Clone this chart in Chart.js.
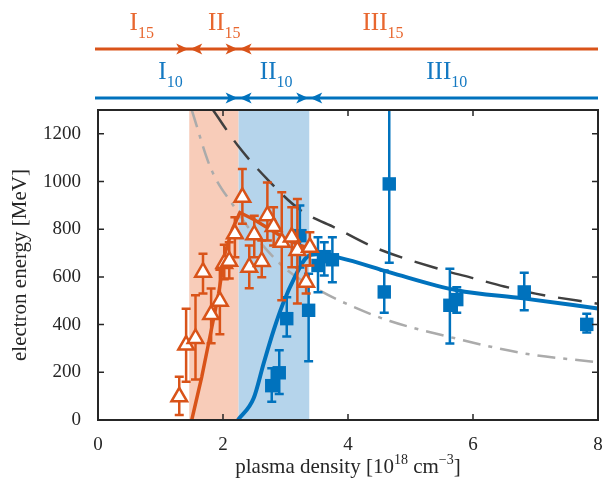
<!DOCTYPE html>
<html>
<head>
<meta charset="utf-8">
<script src="https://cdn.jsdelivr.net/npm/chart.js@4.4.1/dist/chart.umd.min.js"></script>
<style>
  html, body { margin: 0; background: #fff; }
  #wrap { width: 605px; height: 483px; }
</style>
</head>
<body>
<div id="wrap"><canvas id="chart"></canvas></div>
<script>
// ----- data -----
const xTicks = [0, 2, 4, 6, 8];
const yTicks = [0, 200, 400, 600, 800, 1000, 1200];

// 15 TW (orange triangles)
const triX  = [1.30, 1.41, 1.56, 1.68, 1.81, 1.95, 2.02, 2.10, 2.19, 2.31, 2.42, 2.50, 2.62, 2.71, 2.81, 2.94, 3.10, 3.19, 3.33, 3.39];
const triY  = [97, 314, 342, 620, 442, 498, 656, 666, 781, 934, 641, 777, 665, 857, 811, 745, 767, 711, 578, 724];
const triLo = [21, 160, 170, 530, 322, 360, 590, 593, 683, 823, 552, 683, 599, 753, 732, 502, 641, 489, 530, 648];
const triHi = [181, 467, 523, 697, 551, 630, 735, 745, 850, 1053, 732, 857, 753, 996, 892, 955, 892, 927, 648, 787];

// 10 TW (blue squares)
const sqX  = [2.78, 2.90, 3.02, 3.23, 3.37, 3.52, 3.62, 3.75, 4.58, 4.66, 5.63, 5.74, 6.82, 7.82];
const sqY  = [144, 198, 425, 773, 460, 648, 685, 672, 537, 990, 481, 505, 537, 401];
const sqLo = [77, 109, 350, 640, 246, 536, 606, 578, 450, 659, 321, 450, 460, 367];
const sqHi = [217, 293, 515, 900, 613, 766, 745, 766, 627, 1400, 634, 557, 617, 446];

// model curves
const orCurveX = [1.50, 1.66, 1.79, 1.93, 2.03, 2.15, 2.27, 2.50, 2.75, 3.00, 3.20, 3.40];
const orCurveY = [0, 181, 348, 530, 697, 800, 870, 840, 800, 760, 735, 718];
const blCurveX = [2.24, 2.49, 2.65, 2.81, 2.96, 3.15, 3.34, 3.50, 3.87, 4.67, 5.74, 6.80, 8.00];
const blCurveY = [0, 91, 237, 376, 488, 600, 683, 695, 680, 619, 544, 510, 468];
const dashX = [1.84, 2.24, 2.70, 3.23, 3.82, 4.43, 5.50, 6.00, 6.50, 7.00, 8.00];
const dashY = [1300, 1150, 1012, 882, 803, 723, 630, 595, 560, 530, 487];
const dotX = [1.50, 1.80, 2.19, 2.50, 3.02, 3.50, 4.03, 4.67, 5.63, 6.80, 8.00];
const dotY = [1300, 1058, 890, 775, 630, 550, 481, 415, 348, 280, 242];

// regime boundaries and labels
const band15 = [1.46, 2.25];
const band10 = [2.25, 3.38];
const labels15 = ['I', 'II', 'III'];
const labels15X = [0.70, 2.02, 4.56];
const labels10 = ['I', 'II', 'III'];
const labels10X = [1.16, 2.85, 5.58];

const C_OR = '#d95319', C_BL = '#0072bd', C_AX = '#262626';
const SERIF = '"Liberation Serif", "DejaVu Serif", serif';
const pts = (xs, ys) => xs.map((x, i) => ({ x, y: ys[i] }));

// ----- helpers -----
function textRuns(g, x, y, parts, color) {
  // parts: [text, size, dy]
  let w = 0;
  parts.forEach(p => { g.font = p[1] + 'px ' + SERIF; w += g.measureText(p[0]).width; });
  let cx = x - w / 2;
  g.fillStyle = color; g.textAlign = 'left'; g.textBaseline = 'alphabetic';
  parts.forEach(p => {
    g.font = p[1] + 'px ' + SERIF;
    g.fillText(p[0], cx, y + (p[2] || 0));
    cx += g.measureText(p[0]).width;
  });
}
function arrowHead(g, tip, y, dir, color) {
  const L = 12, H = 5.5;
  g.fillStyle = color;
  g.beginPath();
  g.moveTo(tip, y);
  g.lineTo(tip - dir * L, y - H);
  g.lineTo(tip - dir * (L - 3), y);
  g.lineTo(tip - dir * L, y + H);
  g.closePath(); g.fill();
}

// ----- plugins -----
const bands = {
  id: 'bands',
  beforeDatasetsDraw(chart) {
    const { ctx: g, chartArea: a, scales: { x } } = chart;
    g.save();
    g.fillStyle = '#f8ccb9';
    g.fillRect(x.getPixelForValue(band15[0]), a.top, x.getPixelForValue(band15[1]) - x.getPixelForValue(band15[0]), a.bottom - a.top);
    g.fillStyle = '#b5d4eb';
    g.fillRect(x.getPixelForValue(band10[0]), a.top, x.getPixelForValue(band10[1]) - x.getPixelForValue(band10[0]), a.bottom - a.top);
    g.restore();
  }
};

const errorBars = {
  id: 'errorBars',
  beforeDatasetDraw(chart, args) {
    const ds = chart.data.datasets[args.index];
    if (!ds.errLo) return;
    const { ctx: g, chartArea: a, scales: { x, y } } = chart;
    g.save();
    g.beginPath(); g.rect(a.left, a.top, a.right - a.left, a.bottom - a.top); g.clip();
    g.strokeStyle = ds.borderColor; g.lineWidth = 2.5;
    ds.data.forEach((p, i) => {
      const px = x.getPixelForValue(p.x);
      const lo = y.getPixelForValue(ds.errLo[i]), hi = y.getPixelForValue(ds.errHi[i]);
      g.beginPath();
      g.moveTo(px, lo); g.lineTo(px, hi);
      g.moveTo(px - 4.5, lo); g.lineTo(px + 4.5, lo);
      g.moveTo(px - 4.5, hi); g.lineTo(px + 4.5, hi);
      g.stroke();
    });
    g.restore();
  }
};

const decor = {
  id: 'decor',
  afterDraw(chart) {
    const { ctx: g, chartArea: a, scales: { x, y } } = chart;
    g.save();
    // frame + inward ticks
    g.strokeStyle = C_AX; g.lineWidth = 2;
    g.strokeRect(a.left, a.top, a.right - a.left, a.bottom - a.top);
    g.lineWidth = 1.5;
    g.beginPath();
    xTicks.forEach(v => {
      const px = x.getPixelForValue(v);
      g.moveTo(px, a.bottom); g.lineTo(px, a.bottom - 6);
      g.moveTo(px, a.top); g.lineTo(px, a.top + 6);
    });
    yTicks.forEach(v => {
      const py = y.getPixelForValue(v);
      g.moveTo(a.left, py); g.lineTo(a.left + 6, py);
      g.moveTo(a.right, py); g.lineTo(a.right - 6, py);
    });
    g.stroke();

    // regime arrows
    const rows = [
      { yl: 49, yt: 33, band: band15, names: labels15, pos: labels15X, sub: '15', color: C_OR, tcol: '#e8672f' },
      { yl: 98, yt: 82, band: band10, names: labels10, pos: labels10X, sub: '10', color: C_BL, tcol: '#1479c2' }
    ];
    rows.forEach(r => {
      const x0 = x.getPixelForValue(0) - 3, x1 = x.getPixelForValue(8);
      const b0 = x.getPixelForValue(r.band[0]), b1 = x.getPixelForValue(r.band[1]);
      g.strokeStyle = r.color; g.lineWidth = 3;
      g.beginPath(); g.moveTo(x0, r.yl); g.lineTo(x1, r.yl); g.stroke();
      arrowHead(g, b0 - 1, r.yl, 1, r.color);
      arrowHead(g, b0 + 1, r.yl, -1, r.color);
      arrowHead(g, b1 - 1, r.yl, 1, r.color);
      arrowHead(g, b1 + 1, r.yl, -1, r.color);
      r.names.forEach((n, i) => {
        textRuns(g, x.getPixelForValue(r.pos[i]), r.yt - 3, [[n, 25], [r.sub, 16, 8]], r.tcol);
      });
    });

    // axis titles
    textRuns(g, (a.left + a.right) / 2, 473, [['plasma density [10', 21], ['18', 14, -9], [' cm', 21], ['\u22123', 14, -9], [']', 21]], C_AX);
    g.translate(26, (a.top + a.bottom) / 2);
    g.rotate(-Math.PI / 2);
    textRuns(g, 0, 0, [['electron energy [MeV]', 21]], C_AX);
    g.restore();
  }
};

// ----- chart -----
const tickFont = { family: SERIF, size: 19 };
new Chart(document.getElementById('chart').getContext('2d'), {
  type: 'scatter',
  data: {
    datasets: [
      { label: '15', data: pts(triX, triY), errLo: triLo, errHi: triHi, order: 1,
        pointStyle: 'triangle', pointRadius: 9, pointBorderWidth: 2.5,
        borderColor: C_OR, backgroundColor: '#ffffff' },
      { label: '10', data: pts(sqX, sqY), errLo: sqLo, errHi: sqHi, order: 2,
        pointStyle: 'rect', pointRadius: 9.5, pointBorderWidth: 0,
        borderColor: C_BL, backgroundColor: C_BL },
      { label: 'model15', data: pts(orCurveX, orCurveY), showLine: true, pointRadius: 0, order: 3,
        borderColor: C_OR, borderWidth: 3.5 },
      { label: 'model10', data: pts(blCurveX, blCurveY), showLine: true, pointRadius: 0, order: 4,
        borderColor: C_BL, borderWidth: 4, cubicInterpolationMode: 'monotone' },
      { label: 'dashed', data: pts(dashX, dashY), showLine: true, pointRadius: 0, order: 6,
        borderColor: '#404040', borderWidth: 2.5, borderDash: [24, 13], cubicInterpolationMode: 'monotone' },
      { label: 'dashdot', data: pts(dotX, dotY), showLine: true, pointRadius: 0, order: 5,
        borderColor: '#ababab', borderWidth: 2.5, borderDash: [18, 8, 4, 8], cubicInterpolationMode: 'monotone' }
    ]
  },
  options: {
    responsive: true, maintainAspectRatio: false, animation: false,
    layout: { autoPadding: false, padding: { top: 110, right: 7, left: 0, bottom: 0 } },
    plugins: { legend: { display: false }, tooltip: { enabled: false } },
    scales: {
      x: {
        type: 'linear', min: 0, max: 8,
        afterBuildTicks: s => { s.ticks = xTicks.map(v => ({ value: v })); },
        afterFit: s => { s.height = 63; s.paddingLeft = 0; s.paddingRight = 0; },
        grid: { display: false }, border: { display: false },
        ticks: { font: tickFont, color: C_AX, padding: 6, maxRotation: 0, callback: v => String(v) }
      },
      y: {
        type: 'linear', min: 0, max: 1300,
        afterBuildTicks: s => { s.ticks = yTicks.map(v => ({ value: v })); },
        afterFit: s => { s.width = 98; s.paddingTop = 0; s.paddingBottom = 0; },
        grid: { display: false }, border: { display: false },
        ticks: { font: tickFont, color: C_AX, padding: 9, callback: v => String(v) }
      }
    }
  },
  plugins: [bands, errorBars, decor]
});
</script>
</body>
</html>
